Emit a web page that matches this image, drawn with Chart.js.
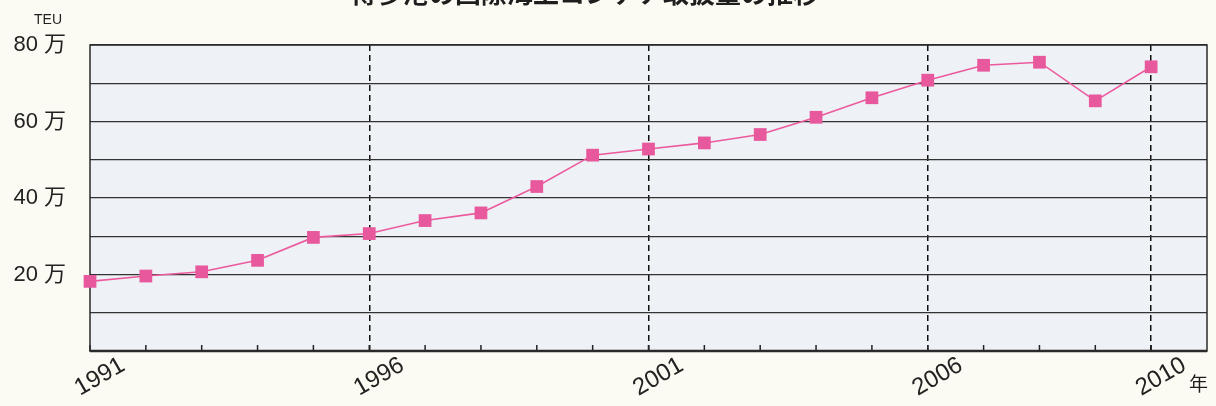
<!DOCTYPE html>
<html>
<head>
<meta charset="utf-8">
<script src="https://cdn.jsdelivr.net/npm/chart.js@4"></script>
<style>
    html, body { margin: 0; padding: 0; background: #fcfbf3; }
    #wrap { position: relative; width: 1216px; height: 406px; }
</style>
</head>
<body>
<div id="wrap"><canvas id="chart" width="1216" height="406"></canvas></div>
<script>
const years = [1991, 1992, 1993, 1994, 1995, 1996, 1997, 1998, 1999, 2000,
               2001, 2002, 2003, 2004, 2005, 2006, 2007, 2008, 2009, 2010];
// 万TEU
const volumes = [18.2, 19.6, 20.7, 23.7, 29.7, 30.7, 34.1, 36.1, 43.0, 51.2,
                 52.8, 54.4, 56.6, 61.1, 66.2, 70.8, 74.7, 75.5, 65.4, 74.3];
const labeledYears = [1991, 1996, 2001, 2006, 2010];
const dashedYears = [1996, 2001, 2006, 2010];
const yLabelValues = [20, 40, 60, 80];
const titleText = '博多港の国際海上コンテナ取扱量の推移';
const yUnit = 'TEU';
const xUnit = '年';

const FONT = '"Liberation Sans", Arial, "Noto Sans CJK JP", sans-serif';

// background of plot area, frame, small year ticks and extra texts
const decorations = {
    id: 'decorations',
    beforeDraw(chart) {
        const { ctx, chartArea: a } = chart;
        ctx.save();
        ctx.fillStyle = '#eef1f5';
        ctx.fillRect(a.left, a.top, a.right - a.left, a.bottom - a.top);
        ctx.restore();
    },
    beforeDatasetsDraw(chart) {
        const { ctx, chartArea: a } = chart;
        const xScale = chart.scales.x;
        ctx.save();
        // year ticks pointing up from the bottom
        ctx.strokeStyle = '#222';
        ctx.lineWidth = 1.5;
        years.forEach(y => {
            const px = xScale.getPixelForValue(y);
            ctx.beginPath();
            ctx.moveTo(px, a.bottom);
            ctx.lineTo(px, a.bottom - 6);
            ctx.stroke();
        });
        // frame
        ctx.strokeStyle = '#2a2a2a';
        ctx.lineWidth = 1.5;
        ctx.strokeRect(a.left, a.top, a.right - a.left, a.bottom - a.top);
        ctx.lineWidth = 2.5;
        ctx.beginPath();
        ctx.moveTo(a.left, a.bottom);
        ctx.lineTo(a.right, a.bottom);
        ctx.stroke();
        ctx.restore();
    },
    afterDraw(chart) {
        const { ctx } = chart;
        ctx.save();
        ctx.fillStyle = '#1e1e1e';
        ctx.textBaseline = 'alphabetic';
        ctx.textAlign = 'center';
        ctx.font = 'bold 26px "Noto Sans CJK JP", sans-serif';
        ctx.fillText(titleText, 585, 3);
        ctx.font = '14px ' + FONT;
        ctx.fillText(yUnit, 48, 24);
        ctx.textAlign = 'left';
        ctx.font = '19px "Noto Sans CJK JP", sans-serif';
        ctx.fillText(xUnit, 1189, 391);
        ctx.restore();
    }
};

new Chart(document.getElementById('chart'), {
    type: 'line',
    data: {
        datasets: [{
            data: years.map((y, i) => ({ x: y, y: volumes[i] })),
            borderColor: '#ec5a9e',
            borderWidth: 1.6,
            backgroundColor: '#e8589c',
            pointStyle: 'rect',
            pointRadius: 9,
            pointBorderWidth: 0,
            pointBackgroundColor: '#e8589c',
            tension: 0,
            clip: false
        }]
    },
    options: {
        responsive: false,
        animation: false,
        layout: { padding: { top: 45, right: 5, left: 0, bottom: 0 } },
        plugins: {
            legend: { display: false },
            tooltip: { enabled: false }
        },
        scales: {
            x: {
                type: 'linear',
                min: 1991,
                max: 2011,
                afterBuildTicks(scale) {
                    scale.ticks = years.map(v => ({ value: v }));
                },
                afterFit(scale) {
                    scale.height = 55;
                    scale.paddingLeft = 0;
                    scale.paddingRight = 0;
                },
                grid: {
                    drawTicks: false,
                    lineWidth: 1.5,
                    color: ctx => dashedYears.includes(ctx.tick && ctx.tick.value) ? '#111' : 'rgba(0,0,0,0)'
                },
                border: { display: false, dash: [6, 4] },
                ticks: {
                    autoSkip: false,
                    minRotation: 30,
                    maxRotation: 30,
                    labelOffset: 33,
                    padding: 0,
                    color: '#222',
                    font: { family: FONT, size: 24 },
                    callback: v => labeledYears.includes(v) ? String(v) : ''
                }
            },
            y: {
                min: 0,
                max: 80,
                afterFit(scale) {
                    scale.width = 90;
                },
                grid: {
                    drawTicks: false,
                    color: '#333',
                    lineWidth: 1.2
                },
                border: { display: false },
                ticks: {
                    stepSize: 10,
                    padding: 24,
                    color: '#222',
                    font: { family: FONT, size: 22 },
                    callback: v => yLabelValues.includes(v) ? v + ' 万' : ''
                }
            }
        }
    },
    plugins: [decorations]
});
</script>
</body>
</html>
